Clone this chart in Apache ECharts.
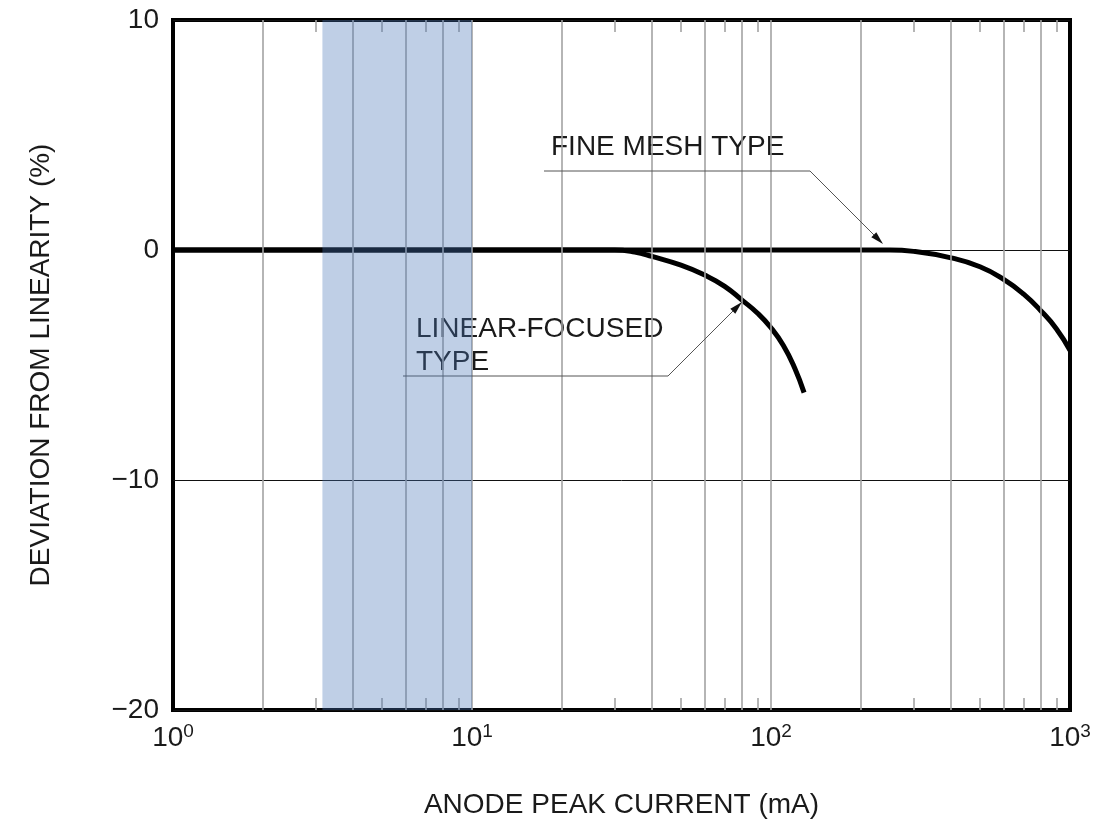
<!DOCTYPE html>
<html>
<head>
<meta charset="utf-8">
<script src="https://cdn.jsdelivr.net/npm/echarts@6/dist/echarts.min.js"></script>
<style>
html,body{margin:0;padding:0;background:#fff;}
#c{width:1109px;height:824px;}
</style>
</head>
<body>
<div id="c"></div>
<script>
// ---- data ----
const fineMeshX = [1, 10, 100, 200, 250, 300, 400, 500, 600, 700, 800, 900, 1000];
const fineMeshY = [0, 0, 0, 0, 0, -0.06, -0.34, -0.73, -1.28, -1.92, -2.65, -3.42, -4.36];
const linearX = [1, 10, 25, 30, 35, 40, 50, 60, 70, 80, 90, 100, 110, 120, 129];
const linearY = [0, 0, 0, 0, -0.09, -0.28, -0.66, -1.09, -1.58, -2.18, -2.74, -3.38, -4.15, -5.13, -6.2];
const bandRange = [3.16, 10];
const fullGridX = [2, 4, 6, 8, 10, 20, 40, 60, 80, 100, 200, 400, 600, 800];
const shortTickX = [3, 5, 7, 9, 30, 50, 70, 90, 300, 500, 700, 900];
const yTicks = [-20, -10, 0, 10];

const FONT = "'Liberation Sans', Arial, Helvetica, sans-serif";
const TXT = '#1a1a1a';

const chart = echarts.init(document.getElementById('c'), null, {renderer: 'canvas'});

const zip = (xs, ys) => xs.map((x, i) => [x, ys[i]]);

const gridLines = fullGridX.map(v => ({xAxis: v}));
const shortLines = [];
shortTickX.forEach(v => {
  shortLines.push([{coord: [v, yTicks[3]]}, {coord: [v, yTicks[3] - 0.52]}]);
  shortLines.push([{coord: [v, yTicks[0]]}, {coord: [v, yTicks[0] + 0.52]}]);
});

function arrowHead(tx, ty, ux, uy) {
  const L = 13, W = 3.5;
  const bx = tx - L * ux, by = ty - L * uy;
  const nx = -uy, ny = ux;
  return [[tx, ty], [bx + W * nx, by + W * ny], [bx - W * nx, by - W * ny]];
}
const s2 = Math.SQRT1_2;

chart.setOption({
  animation: false,
  backgroundColor: '#fff',
  grid: {left: 173, right: 39, top: 20, bottom: 112, show: true, borderColor: '#000', borderWidth: 4, backgroundColor: 'transparent'},
  xAxis: {
    type: 'log', logBase: 10, min: 1, max: 1000,
    name: 'ANODE PEAK CURRENT (mA)', nameLocation: 'middle', nameGap: 81,
    nameTextStyle: {fontSize: 28, color: TXT, fontFamily: FONT},
    axisLine: {show: false}, axisTick: {show: false},
    splitLine: {show: false},
    axisLabel: {
      margin: 12, color: TXT, fontFamily: FONT,
      formatter: v => '{b|10}{s|' + Math.round(Math.log10(v)) + '}',
      rich: {
        b: {fontSize: 28, fontFamily: FONT, color: TXT},
        s: {fontSize: 19, fontFamily: FONT, color: TXT, padding: [0, 0, 13, 0]}
      }
    }
  },
  yAxis: {
    type: 'value', min: yTicks[0], max: yTicks[3], interval: 10,
    name: 'DEVIATION FROM LINEARITY (%)', nameLocation: 'middle', nameGap: 118,
    nameTextStyle: {fontSize: 28, color: TXT, fontFamily: FONT},
    axisLine: {show: false}, axisTick: {show: false},
    splitLine: {show: true, lineStyle: {color: '#111', width: 1}},
    axisLabel: {
      margin: 14, fontSize: 28, color: TXT, fontFamily: FONT,
      formatter: v => v < 0 ? '\u2212' + Math.abs(v) : String(v)
    }
  },
  graphic: {
    elements: [
      {type: 'rect', z: 3, silent: true, shape: {x: 545, y: 125, width: 255, height: 52}, style: {fill: '#fff'}},
      {type: 'rect', z: 3, silent: true, shape: {x: 398, y: 305, width: 277, height: 78}, style: {fill: '#fff'}},
      {type: 'text', z: 3, silent: true, x: 551, y: 147, style: {text: 'FINE MESH TYPE', font: '28px ' + FONT, fill: TXT, verticalAlign: 'middle'}},
      {type: 'text', z: 3, silent: true, x: 416, y: 329, style: {text: 'LINEAR-FOCUSED', font: '28px ' + FONT, fill: TXT, verticalAlign: 'middle'}},
      {type: 'text', z: 3, silent: true, x: 416, y: 362, style: {text: 'TYPE', font: '28px ' + FONT, fill: TXT, verticalAlign: 'middle'}},
      {type: 'polyline', z: 7, silent: true, shape: {points: [[544, 171], [810, 171], [874, 235]]}, style: {stroke: '#555', lineWidth: 1, fill: null}},
      {type: 'polygon', z: 7, silent: true, shape: {points: arrowHead(883, 244, s2, s2)}, style: {fill: '#111'}},
      {type: 'polyline', z: 7, silent: true, shape: {points: [[403, 376], [668, 376], [734, 310]]}, style: {stroke: '#555', lineWidth: 1, fill: null}},
      {type: 'polygon', z: 7, silent: true, shape: {points: arrowHead(742, 302, s2, -s2)}, style: {fill: '#111'}}
    ]
  },
  series: [
    {
      name: 'grid', type: 'line', data: [], z: 1, silent: true,
      markLine: {
        silent: true, symbol: ['none', 'none'], animation: false,
        label: {show: false},
        lineStyle: {color: '#a3a3a3', width: 1.6, type: 'solid'},
        emphasis: {disabled: true},
        data: gridLines.concat(shortLines)
      }
    },
    {
      name: 'LINEAR-FOCUSED TYPE', type: 'line', data: zip(linearX, linearY), z: 4,
      showSymbol: false, symbol: 'none', smooth: 0.5,
      lineStyle: {color: '#000', width: 5}
    },
    {
      name: 'FINE MESH TYPE', type: 'line', data: zip(fineMeshX, fineMeshY), z: 4,
      showSymbol: false, symbol: 'none', smooth: 0.5,
      lineStyle: {color: '#000', width: 5}
    },
    {
      name: 'band', type: 'line', data: [], zlevel: 1, z: 10, silent: true,
      markArea: {
        silent: true, zlevel: 1, z: 10,
        itemStyle: {color: 'rgba(72,118,184,0.35)'},
        data: [[{xAxis: bandRange[0]}, {xAxis: bandRange[1]}]]
      }
    }
  ]
});
</script>
</body>
</html>
